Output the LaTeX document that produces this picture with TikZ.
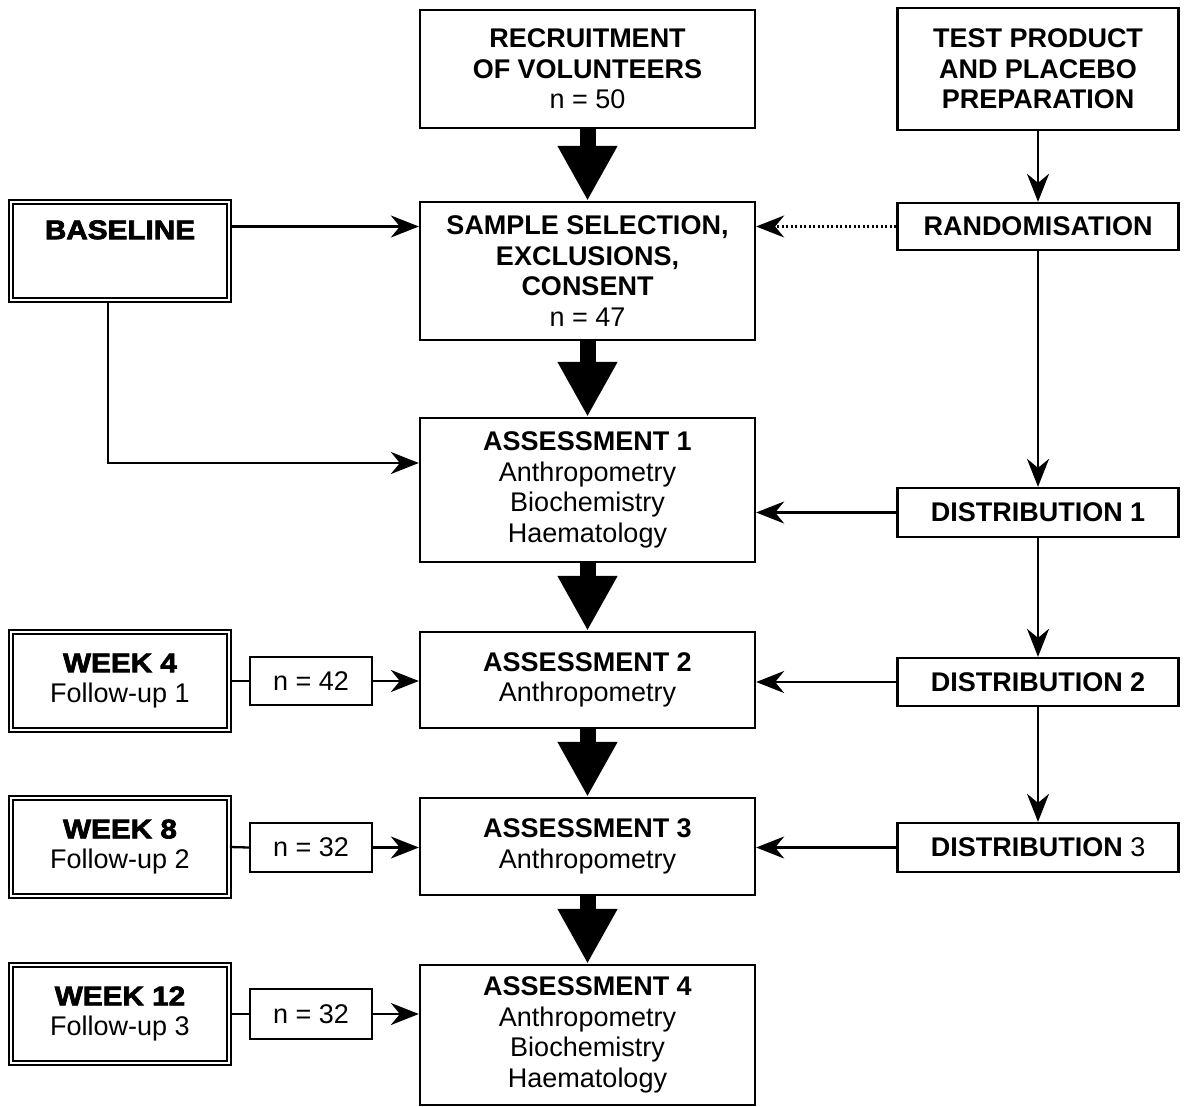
\documentclass[tikz,border=0pt]{standalone}
\usepackage{fontspec}
\usepackage{graphicx}
\setmainfont{Liberation Sans}
\newfontfamily\heavyfont{Liberation Sans}[BoldFeatures={FakeBold=2.5}]
\usetikzlibrary{arrows.meta}
\newcommand{\heavy}[1]{\scalebox{1.1}[1]{\heavyfont\bfseries #1}}
\begin{document}
\begin{tikzpicture}[x=1pt,y=-1pt,
  box/.style={draw, line width=2.3pt, inner sep=0pt, align=center,
    font=\fontsize{27}{30.5}\selectfont},
  weekbox/.style={box, double, double distance=2.4pt, line width=1.7pt,
    minimum width=218pt, minimum height=98pt},
  midbox/.style={box, minimum width=335pt},
  rightbox/.style={box, minimum width=281pt},
  nbox/.style={box, minimum width=122pt},
  conn/.style={line width=2.3pt},
  arr/.style={line width=2.3pt, -{Stealth[length=28pt,width=22pt,inset=9pt]}},
  bigarr/.style={line width=16pt, -{Triangle[length=55pt,width=56pt]}}
]
\useasboundingbox (0,0) rectangle (1190,1107);

% middle column
\node[midbox, minimum height=118pt] (rec) at (587.5,69)
  {\textbf{RECRUITMENT}\\\textbf{OF VOLUNTEERS}\\n = 50};
\node[midbox, minimum height=138pt] (sample) at (587.5,271)
  {\textbf{SAMPLE SELECTION,}\\\textbf{EXCLUSIONS,}\\\textbf{CONSENT}\\n = 47};
\node[midbox, minimum height=144pt] (a1) at (587.5,490)
  {\textbf{ASSESSMENT 1}\\Anthropometry\\Biochemistry\\Haematology};
\node[midbox, minimum height=96pt] (a2) at (587.5,680)
  {\textbf{ASSESSMENT 2}\\Anthropometry};
\node[midbox, minimum height=97pt] (a3) at (587.5,846.5)
  {\textbf{ASSESSMENT 3}\\Anthropometry};
\node[midbox, minimum height=140pt] (a4) at (587.5,1035)
  {\textbf{ASSESSMENT 4}\\Anthropometry\\Biochemistry\\Haematology};

% right column
\node[rightbox, minimum height=122pt] (tp) at (1038,69)
  {\textbf{TEST PRODUCT}\\\textbf{AND PLACEBO}\\\textbf{PREPARATION}};
\node[rightbox, minimum height=47pt] (rando) at (1038,226.5) {\textbf{RANDOMISATION}};
\node[rightbox, minimum height=49pt] (d1) at (1038,512.5) {\textbf{DISTRIBUTION 1}};
\node[rightbox, minimum height=48pt] (d2) at (1038,682) {\textbf{DISTRIBUTION 2}};
\node[rightbox, minimum height=49pt] (d3) at (1038,847.5) {\textbf{DISTRIBUTION} 3};

% left column
\node[weekbox] (base) at (120,251) {\heavy{BASELINE}\\[12pt]\mbox{}};
\node[weekbox] (w4) at (120,681) {\heavy{WEEK 4}\\Follow-up 1};
\node[weekbox] (w8) at (120,847) {\heavy{WEEK 8}\\Follow-up 2};
\node[weekbox] (w12) at (120,1014) {\heavy{WEEK 12}\\Follow-up 3};

\node[nbox, minimum height=48pt] (n42) at (311,681) {n = 42};
\node[nbox, minimum height=49pt] (n32a) at (311,847.5) {n = 32};
\node[nbox, minimum height=50pt] (n32b) at (311,1014) {n = 32};

% thick arrows
\draw[bigarr] (rec.south) -- (sample.north);
\draw[bigarr] (sample.south) -- (a1.north);
\draw[bigarr] (a1.south) -- (a2.north);
\draw[bigarr] (a2.south) -- (a3.north);
\draw[bigarr] (a3.south) -- (a4.north);

% right column arrows
\draw[arr] (tp.south) -- (rando.north);
\draw[arr] (rando.south) -- (d1.north);
\draw[arr] (d1.south) -- (d2.north);
\draw[arr] (d2.south) -- (d3.north);
\draw[arr, dash pattern=on 2.3pt off 2.2pt] (rando.west) -- (sample.east |- rando.west);
\draw[arr] (d1.west) -- (a1.east |- d1.west);
\draw[arr] (d2.west) -- (a2.east |- d2.west);
\draw[arr] (d3.west) -- (a3.east |- d3.west);

% left column arrows
\draw[arr] (base.east |- rando.west) -- (sample.west |- rando.west);
\draw[arr] ([xshift=-12pt]base.south) |- ([yshift=27pt]a1.west);
\draw[conn] (w4.east) -- (n42.west);
\draw[arr] (n42.east) -- (a2.west |- n42.east);
\draw[conn] (w8.east) -- (n32a.west);
\draw[arr] (n32a.east) -- (a3.west |- n32a.east);
\draw[conn] (w12.east) -- (n32b.west);
\draw[arr] (n32b.east) -- (a4.west |- n32b.east);
\end{tikzpicture}
\end{document}
